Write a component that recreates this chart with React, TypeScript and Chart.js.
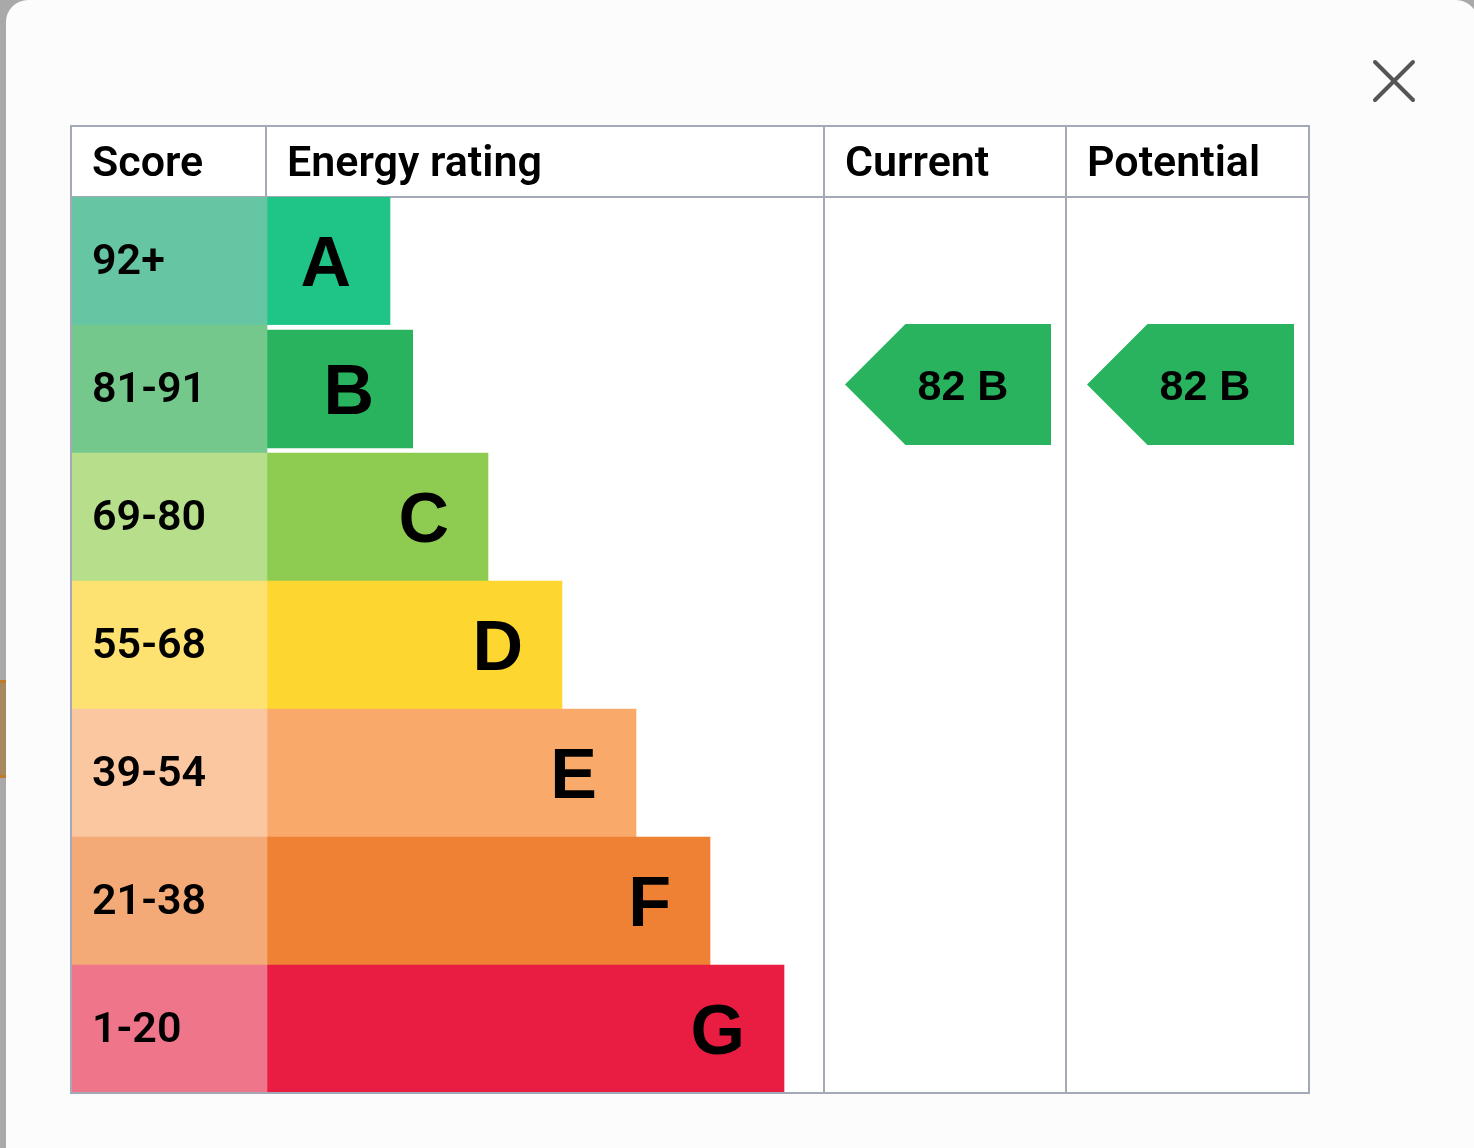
import React, { useEffect, useRef } from 'react';
import { Chart, registerables } from 'chart.js';

Chart.register(...registerables);

// ---- data ----
const bands = ['A', 'B', 'C', 'D', 'E', 'F', 'G'];
const scoreRanges = ['92+', '81-91', '69-80', '55-68', '39-54', '21-38', '1-20'];
const bandMinimums = [92, 81, 69, 55, 39, 21, 1];
const barLengths = [124, 147, 222, 296, 370, 444, 518];
const headers = ['Score', 'Energy rating', 'Current', 'Potential', ''];
const currentScore = 82;
const potentialScore = 82;

// ---- layout / style ----
const columnEdges = [-195, 0, 558, 800, 1043];
const SEAM_OVERLAP = 1;
const scoreColors = ['#66c6a4', '#74c88c', '#b7de8a', '#fde272', '#fbc7a0', '#f4aa77', '#ef758a'];
const barColors = ['#1fc587', '#29b35f', '#8dcb51', '#fed630', '#f9aa6a', '#ee8134', '#e81d41'];
const BORDER = '#a3a9b6';
const HEAD_FONT = { family: 'Roboto', size: 43, weight: '600' as any, lineHeight: 1.2 };
const HEADER_H = 71;

const bandIndex = (score: number) => bandMinimums.findIndex((m) => score >= m);

const epcPlugin = {
  id: 'epc',
  beforeDraw(chart: any) {
    const { ctx, chartArea } = chart;
    const x = chart.scales.x;
    const l = x.getPixelForValue(columnEdges[0]);
    const r = x.getPixelForValue(columnEdges[columnEdges.length - 1]);
    ctx.save();
    ctx.fillStyle = '#ffffff';
    ctx.fillRect(l, chartArea.top - HEADER_H, r - l, chartArea.bottom - chartArea.top + HEADER_H);
    ctx.restore();
  },
  afterDatasetsDraw(chart: any) {
    const { ctx } = chart;
    const x = chart.scales.x;
    const y = chart.scales.y;
    const meta = chart.getDatasetMeta(1);
    ctx.save();
    // band letters at the bar ends
    const letterSize = 70;
    ctx.font = `bold ${letterSize}px "Liberation Sans", Arial, sans-serif`;
    ctx.fillStyle = '#000';
    ctx.textAlign = 'right';
    ctx.textBaseline = 'alphabetic';
    meta.data.forEach((el: any, i: number) => {
      ctx.fillText(bands[i], el.x - 39, el.y + letterSize * 0.358);
    });
    // arrows
    const rowH = y.getPixelForValue(1) - y.getPixelForValue(0);
    const drawArrow = (score: number, col: number) => {
      const idx = bandIndex(score);
      const top = y.getPixelForValue(idx) - rowH / 2 - 1;
      const h = rowH * 0.945;
      const colL = x.getPixelForValue(columnEdges[col]);
      const colR = x.getPixelForValue(columnEdges[col + 1]);
      const tip = colL + 21;
      const right = colR - 15;
      const shoulder = tip + h / 2;
      ctx.beginPath();
      ctx.moveTo(tip, top + h / 2);
      ctx.lineTo(shoulder, top);
      ctx.lineTo(right, top);
      ctx.lineTo(right, top + h);
      ctx.lineTo(shoulder, top + h);
      ctx.closePath();
      ctx.fillStyle = barColors[idx];
      ctx.fill();
      const fs = 43;
      ctx.font = `bold ${fs}px "Liberation Sans", Arial, sans-serif`;
      ctx.fillStyle = '#000';
      ctx.textAlign = 'center';
      ctx.textBaseline = 'alphabetic';
      ctx.fillText(`${score} ${bands[idx]}`, tip + 118, top + h / 2 + fs * 0.358);
    };
    drawArrow(currentScore, 2);
    drawArrow(potentialScore, 3);
    ctx.restore();
  },
  afterDraw(chart: any) {
    const { ctx, chartArea } = chart;
    const x = chart.scales.x;
    const l = x.getPixelForValue(columnEdges[0]);
    const r = x.getPixelForValue(columnEdges[columnEdges.length - 1]);
    ctx.save();
    ctx.strokeStyle = BORDER;
    ctx.lineWidth = 2;
    ctx.strokeRect(l, chartArea.top - HEADER_H, r - l, chartArea.bottom - chartArea.top + HEADER_H);
    ctx.restore();
  },
};

export default function App() {
  const ref = useRef<HTMLCanvasElement | null>(null);

  useEffect(() => {
    if (!ref.current) return;
    const curIdx = bandIndex(currentScore);
    const chart = new Chart(ref.current, {
      type: 'bar',
      data: {
        labels: scoreRanges,
        datasets: [
          {
            label: 'Score',
            data: scoreRanges.map(() => [columnEdges[0], columnEdges[1] + SEAM_OVERLAP]) as any,
            backgroundColor: scoreColors,
            borderWidth: 0,
            grouped: false,
            barPercentage: 1,
            categoryPercentage: 1,
          },
          {
            label: 'Energy rating',
            data: barLengths.map((v) => [0, v]) as any,
            backgroundColor: barColors,
            borderColor: '#ffffff',
            borderSkipped: false,
            borderWidth: ((ctx: any) =>
              ctx.dataIndex === curIdx ? { top: 5, bottom: 5, left: 0, right: 0 } : 0) as any,
            grouped: false,
            barPercentage: 1,
            categoryPercentage: 1,
          },
        ],
      },
      options: {
        indexAxis: 'y',
        responsive: false,
        animation: false,
        events: [],
        layout: { padding: { left: 71, top: 126, right: 165, bottom: 55 } },
        plugins: { legend: { display: false }, tooltip: { enabled: false } },
        scales: {
          x: {
            type: 'linear',
            position: 'top',
            min: columnEdges[0],
            max: columnEdges[columnEdges.length - 1],
            afterBuildTicks: (s: any) => {
              s.ticks = columnEdges.map((v) => ({ value: v }));
            },
            afterFit: (s: any) => {
              s.height = HEADER_H;
            },
            grid: {
              color: ((ctx: any) => (ctx.index === 1 ? 'rgba(0,0,0,0)' : BORDER)) as any,
              tickColor: BORDER,
              lineWidth: 2,
              tickWidth: 2,
              tickLength: HEADER_H,
              drawOnChartArea: true,
            },
            border: { display: true, color: BORDER, width: 2 },
            ticks: {
              callback: (_v: any, i: number) => headers[i],
              align: 'start',
              labelOffset: 21,
              padding: 32 - HEADER_H - (43 * 1.2) / 2,
              font: HEAD_FONT,
              color: '#000',
              maxRotation: 0,
              minRotation: 0,
              autoSkip: false,
            },
          },
          y: {
            type: 'category',
            position: 'left',
            grid: { display: false },
            border: { display: false },
            afterFit: (s: any) => {
              s.width = 0;
            },
            ticks: {
              z: 1,
              mirror: true,
              padding: 21,
              labelOffset: 2,
              font: HEAD_FONT,
              color: '#000',
              autoSkip: false,
            },
          },
        },
      },
      plugins: [epcPlugin],
    });
    return () => chart.destroy();
  }, []);

  return (
    <div
      style={{
        position: 'absolute',
        left: 0,
        top: 0,
        width: 1474,
        height: 1148,
        overflow: 'hidden',
        background: '#a9a9a9',
      }}
    >
      <div
        style={{
          position: 'absolute',
          left: 0,
          top: 680,
          width: 6,
          height: 92,
          background: '#a8895e',
          borderTop: '3px solid #c07a28',
          borderBottom: '3px solid #c07a28',
        }}
      />
      <div
        style={{
          position: 'absolute',
          left: 6,
          top: 0,
          width: 1472,
          height: 1300,
          background: '#fcfcfc',
          borderRadius: 22,
        }}
      />
      <canvas
        ref={ref}
        width={1474}
        height={1148}
        style={{ position: 'absolute', left: 0, top: 0, width: 1474, height: 1148, display: 'block' }}
      />
      <svg
        width={60}
        height={60}
        viewBox="0 0 60 60"
        style={{ position: 'absolute', left: 1364, top: 51 }}
      >
        <line x1={11} y1={11} x2={49} y2={49} stroke="#555" strokeWidth={4} strokeLinecap="round" />
        <line x1={49} y1={11} x2={11} y2={49} stroke="#555" strokeWidth={4} strokeLinecap="round" />
      </svg>
    </div>
  );
}
